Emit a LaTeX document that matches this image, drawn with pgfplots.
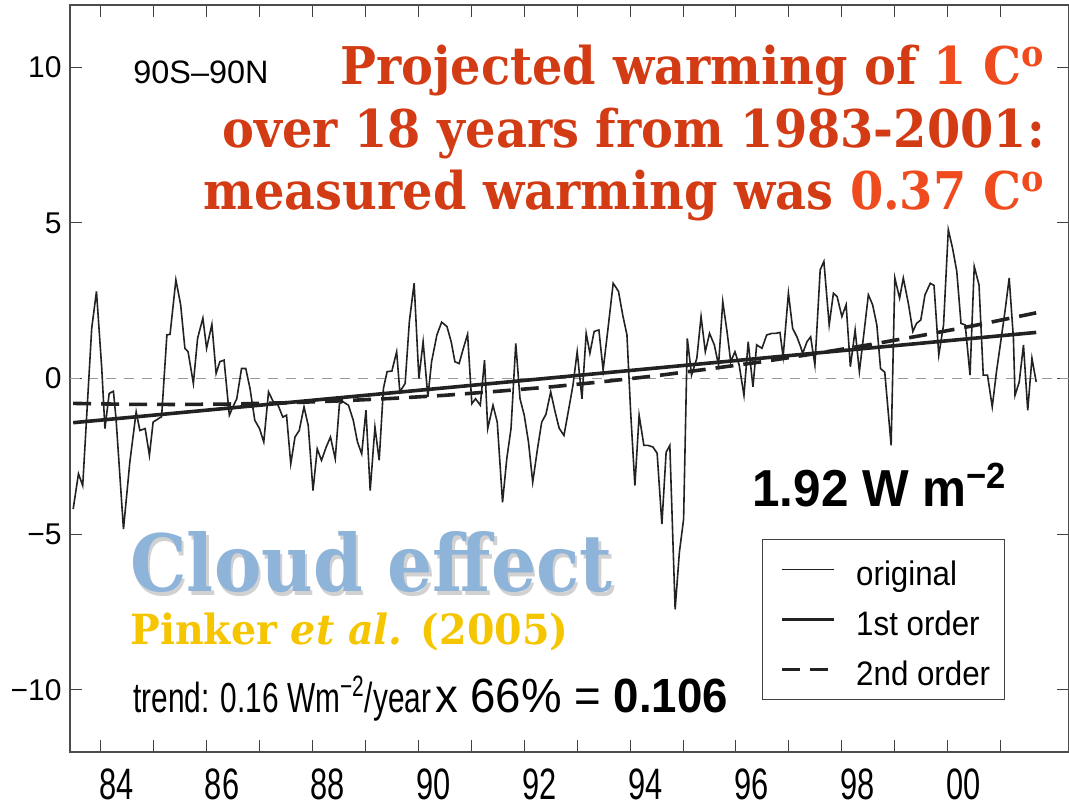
\documentclass[border=0pt]{standalone}
\usepackage{fontspec}
\usepackage{graphicx}
\usepackage{pgfplots}
\pgfplotsset{compat=1.18}
\setmainfont{Liberation Sans}
\newfontfamily\xlab{Liberation Sans}[FakeStretch=0.7]
\newfontfamily\narrow{Liberation Sans}[FakeStretch=0.92]
\newfontfamily\trendf{Liberation Sans}[FakeStretch=0.71]
\newfontfamily\semi{Liberation Sans}[FakeStretch=0.95]
\newfontfamily\ser{DejaVu Serif}[FakeStretch=0.92]
\newfontfamily\serb{DejaVu Serif}[FakeStretch=0.9]
\newfontfamily\serp{DejaVu Serif}[FakeStretch=0.95]
\definecolor{redA}{HTML}{D23B14}
\definecolor{redB}{HTML}{F04B1E}
\definecolor{cloud}{HTML}{8FB4DA}
\definecolor{gold}{HTML}{F5C500}
\definecolor{ink}{HTML}{222222}
\begin{document}
\begin{tikzpicture}
\path[use as bounding box] (0,0) rectangle (534.5pt,404pt);
\begin{axis}[
  at={(35pt,28pt)}, anchor=south west, scale only axis,
  width=499.5pt, height=373.5pt,
  xmin=1983.42, xmax=2002.29, ymin=-12, ymax=12,
  xtick={1984,...,2001},
  xticklabels={84,,86,,88,,90,,92,,94,,96,,98,,00,},
  ytick={-10,-5,0,5,10},
  yticklabels={−10,−5,0,5,10},
  tick align=inside, major tick length=6pt,
  tick style={black!75, line width=0.5pt},
  axis line style={black!70, line width=0.6pt},
  xticklabel style={font=\xlab\fontsize{22pt}{24pt}\selectfont, anchor=north west, inner sep=0pt, yshift=-8pt, xshift=-1pt},
  yticklabel style={font=\fontsize{15pt}{17pt}\selectfont, inner sep=0pt, xshift=-4pt},
  legend style={at={(0.6927,0.2851)}, anchor=north west, draw=black!75, line width=0.6pt,
    font=\narrow\fontsize{17pt}{20pt}\selectfont, inner xsep=9pt, inner ysep=2.5pt, row sep=0pt,
    nodes={inner sep=0pt, text height=20.5pt, text depth=4.5pt}},
  legend cell align=left,
  legend image code/.code={\draw[#1] (0pt,0pt) -- (26pt,0pt); \path (36pt,0pt);},
  clip=true,
]
\addplot[gray!80, line width=0.5pt, dash pattern=on 5pt off 4pt, forget plot] coordinates {(1983.42,0) (2002.29,0)};
\addplot[ink, line width=0.8pt] coordinates {
(1983.48,-4.19) (1983.58,-3.06) (1983.66,-3.44) (1983.83,1.61) (1983.92,2.80)
(1984.02,0.32) (1984.08,-1.61) (1984.16,-0.48) (1984.24,-0.41) (1984.29,-1.30)
(1984.43,-4.84) (1984.55,-2.69) (1984.67,-1.07) (1984.74,-1.67) (1984.84,-1.61)
(1984.92,-2.47) (1984.99,-1.40) (1985.09,-1.29) (1985.15,-1.23) (1985.25,1.40)
(1985.31,1.42) (1985.42,3.17) (1985.51,2.37) (1985.59,0.97) (1985.65,0.86)
(1985.75,-0.16) (1985.83,1.29) (1985.93,1.94) (1986.00,0.97) (1986.10,1.74)
(1986.18,0.16) (1986.25,0.54) (1986.33,0.59) (1986.43,-1.18) (1986.50,-0.90)
(1986.57,-0.65) (1986.66,0.32) (1986.74,0.32) (1986.82,-0.32) (1986.91,-1.34)
(1987.00,-1.61) (1987.08,-2.04) (1987.17,-0.43) (1987.26,-0.75) (1987.35,-0.86)
(1987.44,-1.24) (1987.51,-1.18) (1987.59,-2.74) (1987.67,-1.88) (1987.75,-1.67)
(1987.84,-0.91) (1987.92,-1.51) (1988.01,-3.60) (1988.09,-2.26) (1988.17,-2.63)
(1988.26,-2.20) (1988.34,-1.88) (1988.43,-2.58) (1988.51,-0.81) (1988.58,-0.75)
(1988.68,-0.86) (1988.77,-1.34) (1988.85,-2.04) (1988.93,-2.42) (1989.01,-1.02)
(1989.09,-3.60) (1989.18,-1.56) (1989.26,-2.63) (1989.34,-0.32) (1989.41,0.22)
(1989.50,0.24) (1989.59,0.86) (1989.65,-0.43) (1989.75,-0.16) (1989.83,1.83)
(1989.92,3.06) (1990.01,0.00) (1990.09,1.18) (1990.18,-0.59) (1990.25,0.54)
(1990.35,1.40) (1990.44,1.81) (1990.54,1.67) (1990.62,1.18) (1990.69,0.54)
(1990.77,0.48) (1990.85,0.97) (1990.93,1.42) (1991.01,-0.81) (1991.08,-0.65)
(1991.17,-0.86) (1991.25,0.59) (1991.31,-1.61) (1991.41,-0.86) (1991.49,-1.40)
(1991.59,-3.98) (1991.67,-2.58) (1991.75,-1.61) (1991.84,1.13) (1991.92,-0.65)
(1992.00,-1.18) (1992.08,-2.04) (1992.16,-3.33) (1992.25,-2.26) (1992.33,-1.40)
(1992.41,-1.15) (1992.50,-0.43) (1992.58,-1.05) (1992.66,-1.60) (1992.75,-1.83)
(1992.83,-1.08) (1992.92,-0.22) (1993.00,0.86) (1993.09,-0.65) (1993.17,1.45)
(1993.24,0.81) (1993.32,1.51) (1993.41,1.56) (1993.49,0.27) (1993.59,1.72)
(1993.68,3.06) (1993.78,2.80) (1993.86,2.04) (1993.94,1.40) (1994.01,-1.08)
(1994.09,-3.44) (1994.17,-1.18) (1994.26,-2.15) (1994.34,-2.15) (1994.43,-2.20)
(1994.51,-2.40) (1994.60,-4.68) (1994.68,-2.37) (1994.75,-2.15) (1994.85,-7.42)
(1994.93,-5.59) (1995.01,-4.52) (1995.08,1.29) (1995.16,0.11) (1995.26,0.65)
(1995.34,1.99) (1995.42,0.86) (1995.50,1.45) (1995.59,1.08) (1995.67,0.43)
(1995.75,2.47) (1995.83,1.51) (1995.90,0.54) (1995.98,0.86) (1996.06,0.43)
(1996.15,-0.54) (1996.23,1.18) (1996.32,-0.27) (1996.39,1.08) (1996.49,0.97)
(1996.58,1.40) (1996.68,1.45) (1996.75,1.45) (1996.83,1.48) (1996.89,0.70)
(1996.99,2.74) (1997.07,1.61) (1997.15,1.34) (1997.22,1.02) (1997.26,0.81)
(1997.34,1.18) (1997.41,1.34) (1997.49,0.43) (1997.59,3.49) (1997.66,3.76)
(1997.76,1.72) (1997.84,2.74) (1997.91,2.63) (1998.00,1.99) (1998.08,2.37)
(1998.16,0.38) (1998.25,1.56) (1998.33,0.22) (1998.42,1.51) (1998.50,2.69)
(1998.58,2.37) (1998.66,1.72) (1998.73,0.32) (1998.81,0.20) (1998.93,-2.15)
(1999.00,3.23) (1999.09,2.58) (1999.16,3.23) (1999.26,2.37) (1999.34,1.51)
(1999.41,1.77) (1999.49,1.88) (1999.57,2.69) (1999.67,3.06) (1999.74,2.99)
(1999.83,0.75) (1999.92,1.72) (2000.01,4.78) (2000.09,4.19) (2000.17,3.44)
(2000.25,1.77) (2000.33,1.72) (2000.42,0.11) (2000.50,3.60) (2000.59,3.01)
(2000.67,0.11) (2000.75,0.11) (2000.84,-0.91) (2000.92,0.22) (2001.00,1.18)
(2001.08,2.15) (2001.16,3.23) (2001.24,1.29) (2001.27,-0.54) (2001.35,-0.11)
(2001.43,1.08) (2001.51,-1.02) (2001.59,0.65) (2001.67,-0.11)
};
\addlegendentry{original}
\addplot[ink, line width=1.8pt] coordinates {(1983.48,-1.42) (2001.67,1.48)};
\addlegendentry{1st order}
\addplot[ink, line width=1.8pt, dash pattern=on 9pt off 5pt] coordinates {
(1983.48,-0.80) (1984.5,-0.83) (1985.5,-0.835) (1986.5,-0.82) (1987.5,-0.78)
(1988.5,-0.72) (1989.5,-0.64) (1990.5,-0.54) (1991.5,-0.41) (1992.5,-0.27)
(1993.5,-0.10) (1994.5,0.09) (1995.5,0.31) (1996.5,0.54) (1997.5,0.80)
(1998.5,1.08) (1999.5,1.38) (2000.5,1.70) (2001.5,2.05) (2001.67,2.11)};
\addlegendentry{2nd order\hspace*{-2pt}}
\end{axis}
\begin{scope}[x=0.5pt, y=-0.5pt, shift={(0pt,404pt)}]
\node[anchor=base west, inner sep=0pt, font=\fontsize{16.2pt}{18pt}\selectfont] at (133,84) {90S–90N};
\node[anchor=base east, inner sep=0pt, font=\ser\bfseries\fontsize{26pt}{30pt}\selectfont, text=redA] at (1045,85) {Projected warming of \textcolor{redB}{1 C\textsuperscript{o}}};
\node[anchor=base east, inner sep=0pt, font=\ser\bfseries\fontsize{26pt}{30pt}\selectfont, text=redA] at (1045,148) {over 18 years from 1983-2001:};
\node[anchor=base east, inner sep=0pt, font=\ser\bfseries\fontsize{26pt}{30pt}\selectfont, text=redA] at (1045,210) {measured warming was \textcolor{redB}{0.37 C\textsuperscript{o}}};
\node[anchor=base west, inner sep=0pt, font=\semi\bfseries\fontsize{26pt}{30pt}\selectfont] at (752,507) {1.92 W m\textsuperscript{−2}};
\node[anchor=base west, inner sep=0pt, font=\serb\bfseries\fontsize{39.5pt}{42pt}\selectfont, text=black, opacity=0.18] at (132.5,595) {Cloud effect};
\node[anchor=base west, inner sep=0pt, font=\serb\bfseries\fontsize{39.5pt}{42pt}\selectfont, text=cloud] at (130,592) {Cloud effect};
\node[anchor=base west, inner sep=0pt, font=\serp\bfseries\fontsize{20.8pt}{24pt}\selectfont, text=gold] at (130,645) {Pinker \textit{et al.} (2005)};
\node[anchor=base west, inner sep=0pt] at (133,712) {{\trendf\fontsize{21pt}{23pt}\selectfont trend: 0.16 Wm\textsuperscript{−2}/year}\hspace{2pt}{\semi\fontsize{24pt}{26pt}\selectfont x 66\% = \textbf{0.106}}};
\end{scope}
\end{tikzpicture}
\end{document}
